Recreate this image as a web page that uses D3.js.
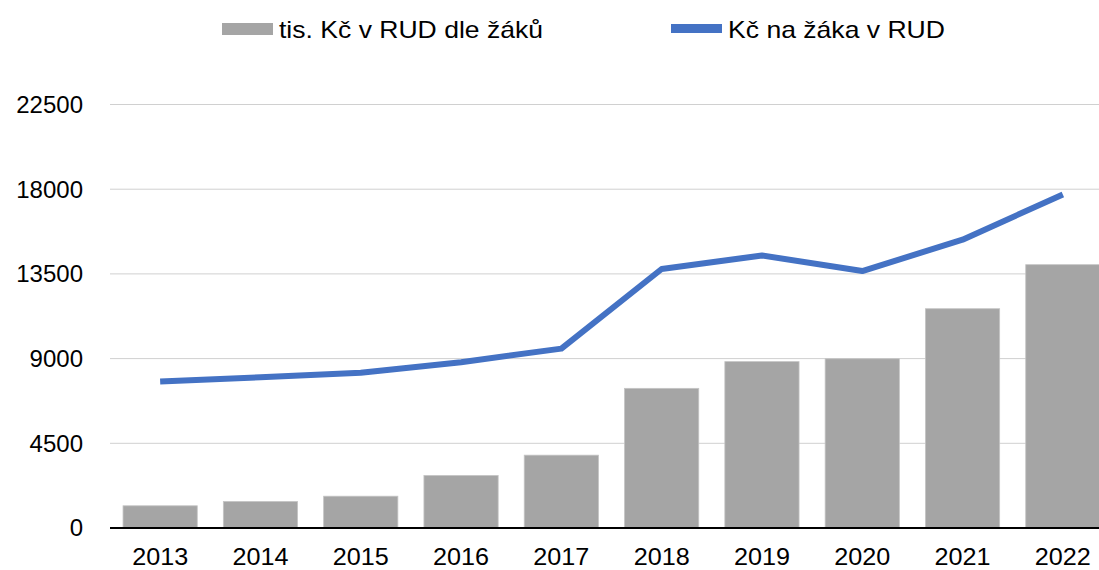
<!DOCTYPE html>
<html>
<head>
<meta charset="utf-8">
<script src="https://cdn.jsdelivr.net/npm/d3@7"></script>
<style>
  body { margin: 0; background: #fff; }
  svg { display: block; font-family: "Liberation Sans", Arial, sans-serif; }
</style>
</head>
<body>
<div id="chart"></div>
<script>
// data
const years = ["2013", "2014", "2015", "2016", "2017", "2018", "2019", "2020", "2021", "2022"];
const totalThousands = [1180, 1410, 1690, 2790, 3870, 7420, 8840, 8990, 11650, 13990];
const perPupil = [7780, 8010, 8250, 8810, 9530, 13760, 14480, 13650, 15320, 17720];
const yTicks = [0, 4500, 9000, 13500, 18000, 22500];
const seriesNames = ["tis. Kč v RUD dle žáků", "Kč na žáka v RUD"];

const width = 1099, height = 570;
const barColor = "#a5a5a5", lineColor = "#4472c4";

const svg = d3.select("#chart").append("svg")
    .attr("width", width)
    .attr("height", height);

// scales
const x = d3.scaleBand()
    .domain(years)
    .range([110, 1113])
    .paddingInner(0.26)
    .paddingOuter(0.13);

const y = d3.scaleLinear()
    .domain([0, 22500])
    .range([528, 104.5]);

// gridlines
svg.append("g")
    .selectAll("line")
    .data(yTicks.slice(1))
    .enter().append("line")
    .attr("x1", 110).attr("x2", width)
    .attr("y1", d => y(d)).attr("y2", d => y(d))
    .attr("stroke", "#d0d0d0")
    .attr("stroke-width", 1);

// y tick labels
svg.append("g")
    .selectAll("text")
    .data(yTicks)
    .enter().append("text")
    .attr("x", 83)
    .attr("y", d => y(d))
    .attr("dy", "0.35em")
    .attr("text-anchor", "end")
    .attr("font-size", 24)
    .attr("fill", "#000")
    .text(d => d);

// bars
svg.append("g")
    .selectAll("rect")
    .data(years)
    .enter().append("rect")
    .attr("x", d => x(d))
    .attr("width", x.bandwidth())
    .attr("y", (d, i) => y(totalThousands[i]))
    .attr("height", (d, i) => y(0) - y(totalThousands[i]))
    .attr("fill", barColor)
    .attr("stroke", "#c4c4c4")
    .attr("stroke-width", 0.8);

// baseline
svg.append("line")
    .attr("x1", 110).attr("x2", width)
    .attr("y1", y(0)).attr("y2", y(0))
    .attr("stroke", "#000")
    .attr("stroke-width", 2);

// x labels
svg.append("g")
    .selectAll("text")
    .data(years)
    .enter().append("text")
    .attr("x", d => x(d) + x.bandwidth() / 2)
    .attr("y", 565)
    .attr("text-anchor", "middle")
    .attr("font-size", 24)
    .attr("textLength", 56)
    .attr("lengthAdjust", "spacingAndGlyphs")
    .attr("fill", "#000")
    .text(d => d);

// line
const line = d3.line()
    .x((d, i) => x(years[i]) + x.bandwidth() / 2)
    .y(d => y(d));

svg.append("path")
    .datum(perPupil)
    .attr("d", line)
    .attr("fill", "none")
    .attr("stroke", lineColor)
    .attr("stroke-width", 6)
    .attr("stroke-linejoin", "round");

// legend
const legend = svg.append("g");
legend.append("rect")
    .attr("x", 222).attr("y", 23)
    .attr("width", 51).attr("height", 12)
    .attr("fill", barColor);
legend.append("text")
    .attr("x", 279).attr("y", 38)
    .attr("font-size", 24)
    .attr("textLength", 264)
    .attr("lengthAdjust", "spacingAndGlyphs")
    .text(seriesNames[0]);

legend.append("rect")
    .attr("x", 671).attr("y", 24)
    .attr("width", 51).attr("height", 9)
    .attr("fill", lineColor);
legend.append("text")
    .attr("x", 728).attr("y", 38)
    .attr("font-size", 24)
    .attr("textLength", 217)
    .attr("lengthAdjust", "spacingAndGlyphs")
    .text(seriesNames[1]);
</script>
</body>
</html>
